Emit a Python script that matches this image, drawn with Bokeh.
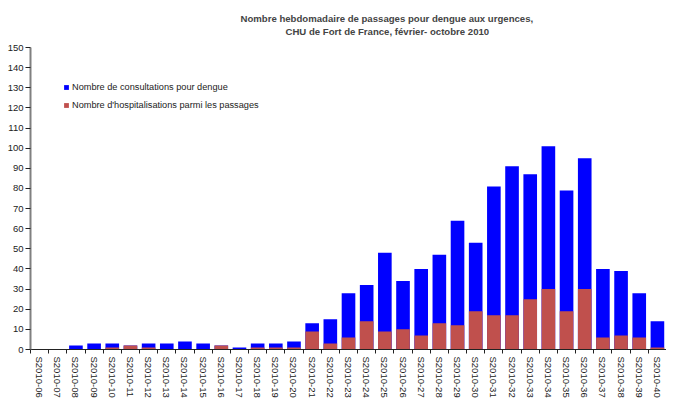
import numpy as np
from bokeh.plotting import figure
from bokeh.models import (Range1d, FixedTicker, Legend, LegendItem, Title)
from bokeh.embed import file_html
from bokeh.resources import INLINE

weeks = ["S2010-06", "S2010-07", "S2010-08", "S2010-09", "S2010-10", "S2010-11",
         "S2010-12", "S2010-13", "S2010-14", "S2010-15", "S2010-16", "S2010-17",
         "S2010-18", "S2010-19", "S2010-20", "S2010-21", "S2010-22", "S2010-23",
         "S2010-24", "S2010-25", "S2010-26", "S2010-27", "S2010-28", "S2010-29",
         "S2010-30", "S2010-31", "S2010-32", "S2010-33", "S2010-34", "S2010-35",
         "S2010-36", "S2010-37", "S2010-38", "S2010-39", "S2010-40"]
consultations = [0, 0, 2, 3, 3, 2, 3, 3, 4, 3, 2, 1, 3, 3, 4, 13, 15, 28, 32, 48,
                 34, 40, 47, 64, 53, 81, 91, 87, 101, 79, 95, 40, 39, 28, 14]
hospitalisations = [0, 0, 0, 0, 1, 2, 1, 0, 0, 0, 2, 0, 1, 1, 1, 9, 3, 6, 14, 9,
                    10, 7, 13, 12, 19, 17, 17, 25, 30, 19, 30, 6, 7, 6, 1]
y_ticks = list(range(0, 151, 10))

title1 = "Nombre hebdomadaire de passages pour dengue aux urgences,"
title2 = "CHU de Fort de France, février- octobre 2010"
label_consult = "Nombre de consultations pour dengue"
label_hosp = "Nombre d'hospitalisations parmi les passages"

FONT = "Liberation Sans"
BLUE = "#0000FF"
RED = "#C0504D"

W, H = 666, 400

n = len(weeks)
centers = [i + 0.5 for i in range(n)]
bounds = list(range(n + 1))

p = figure(width=W, height=H, output_backend="svg", toolbar_location=None,
           x_range=Range1d(0, n), y_range=Range1d(0, 150), title=None,
           min_border_top=47, min_border_bottom=0, min_border_left=30,
           min_border_right=0)
p.outline_line_color = None
p.xgrid.visible = False
p.ygrid.visible = False

r1 = p.vbar(x=centers, top=consultations, width=0.75, fill_color=BLUE,
            line_color=None)
r2 = p.vbar(x=centers, top=hospitalisations, width=0.75, fill_color=RED,
            line_color=None)

# y axis
ya = p.yaxis[0]
ya.ticker = FixedTicker(ticks=y_ticks)
ya.axis_line_color = "#808080"
ya.axis_line_width = 2
ya.major_tick_line_color = "#222222"
ya.major_tick_out = 5
ya.major_tick_in = 0
ya.minor_tick_line_color = None
ya.major_label_standoff = 2
ya.major_label_text_font = FONT
ya.major_label_text_font_size = "9.5px"
ya.major_label_text_color = "#222222"

# x axis
xa = p.xaxis[0]
xa.ticker = FixedTicker(ticks=centers, minor_ticks=bounds)
xa.major_label_overrides = {c: w for c, w in zip(centers, weeks)}
xa.major_label_orientation = "vertical"
xa.major_tick_out = 0
xa.major_tick_in = 0
xa.minor_tick_out = 4
xa.minor_tick_in = 0
xa.minor_tick_line_color = "#222222"
xa.axis_line_color = "#222222"
xa.major_label_standoff = 3
xa.major_label_text_font = FONT
xa.major_label_text_font_size = "9.5px"
xa.major_label_text_color = "#222222"

# titles (first added sits closest to the frame)
spacer = Title(text=" ", text_font_size="4px", standoff=4)
t2 = Title(text=title2, align="left", offset=255, text_font=FONT,
           text_font_size="9.6px", text_font_style="bold", standoff=0)
t1 = Title(text=title1, align="left", offset=210, text_font=FONT,
           text_font_size="9.6px", text_font_style="bold", standoff=0)
p.add_layout(spacer, "above")
p.add_layout(t2, "above")
p.add_layout(t1, "above")

legend = Legend(items=[LegendItem(label=label_consult, renderers=[r1]),
                       LegendItem(label=label_hosp, renderers=[r2])],
                location="top_left", glyph_width=6, glyph_height=6,
                label_height=14, spacing=4, padding=0, margin=33,
                label_standoff=3, label_text_font=FONT,
                label_text_font_size="9.2px", label_text_color="#222222",
                border_line_color=None, background_fill_alpha=0)
p.add_layout(legend)

open("out.html", "w").write(file_html(p, INLINE))
